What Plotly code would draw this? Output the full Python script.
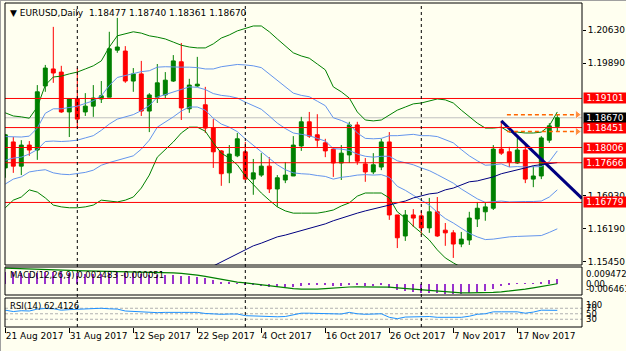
import plotly.graph_objects as go
import pandas as pd

# ---------------- data ----------------
title_text = "EURUSD,Daily"
dates = pd.bdate_range("2017-08-21", "2017-11-24")

opens = [1.1755, 1.1813, 1.1759, 1.1806, 1.1795, 1.1938, 1.1976, 1.1969, 1.1880, 1.1909,
         1.1880, 1.1893, 1.1909, 1.1913, 1.2018, 1.2016, 1.1949, 1.1965, 1.1882, 1.1913,
         1.1918, 1.1949, 1.1992, 1.1887, 1.1938, 1.1896, 1.1844, 1.1793, 1.1744, 1.1782,
         1.1791, 1.1730, 1.1739, 1.1759, 1.1708, 1.1728, 1.1737, 1.1804, 1.1858, 1.1829,
         1.1811, 1.1797, 1.1766, 1.1784, 1.1851, 1.1764, 1.1746, 1.1757, 1.1813, 1.1650,
         1.1603, 1.1650, 1.1648, 1.1621, 1.1657, 1.1616, 1.1610, 1.1585, 1.1594, 1.1641,
         1.1657, 1.1665, 1.1797, 1.1791, 1.1766, 1.1795, 1.1730, 1.1737, 1.1817, 1.18477]
highs = [1.1831, 1.1824, 1.1817, 1.1815, 1.1940, 1.1985, 1.2070, 1.1983, 1.1911, 1.1978,
         1.1922, 1.1940, 1.1949, 1.2059, 1.2090, 1.2027, 1.1978, 1.1994, 1.1922, 1.1987,
         1.1969, 1.2007, 1.2034, 1.1954, 1.2003, 1.1936, 1.1864, 1.1795, 1.1806, 1.1833,
         1.1813, 1.1775, 1.1788, 1.1779, 1.1739, 1.1768, 1.1826, 1.1869, 1.1880, 1.1875,
         1.1820, 1.1800, 1.1806, 1.1858, 1.1858, 1.1777, 1.1788, 1.1820, 1.1835, 1.1650,
         1.1661, 1.1663, 1.1659, 1.1688, 1.1690, 1.1632, 1.1616, 1.1612, 1.1657, 1.1679,
         1.1679, 1.1806, 1.1860, 1.1802, 1.1824, 1.1811, 1.1759, 1.1826, 1.1855, 1.18740]
lows = [1.1733, 1.1744, 1.1739, 1.1782, 1.1773, 1.1925, 1.1945, 1.1878, 1.1824, 1.1846,
        1.1871, 1.1869, 1.1900, 1.1913, 1.2012, 1.1945, 1.1925, 1.1871, 1.1835, 1.1900,
        1.1911, 1.1947, 1.1862, 1.1878, 1.1936, 1.1833, 1.1755, 1.1715, 1.1721, 1.1779,
        1.1728, 1.1695, 1.1735, 1.1699, 1.1668, 1.1721, 1.1737, 1.1793, 1.1822, 1.1802,
        1.1779, 1.1735, 1.1728, 1.1766, 1.1762, 1.1724, 1.1741, 1.1750, 1.1639, 1.1576,
        1.1592, 1.1623, 1.1605, 1.1610, 1.1601, 1.1581, 1.1554, 1.1578, 1.1583, 1.1623,
        1.1637, 1.1661, 1.1784, 1.1757, 1.1764, 1.1721, 1.1712, 1.1730, 1.1811, 1.18361]
closes = [1.1829, 1.1759, 1.1806, 1.1795, 1.1925, 1.1978, 1.1967, 1.1880, 1.1909, 1.1864,
          1.1893, 1.1911, 1.1916, 1.2021, 1.2025, 1.1949, 1.1965, 1.1882, 1.1918, 1.1945,
          1.1951, 1.1994, 1.1889, 1.1940, 1.1942, 1.1844, 1.1791, 1.1742, 1.1786, 1.1820,
          1.1730, 1.1744, 1.1759, 1.1708, 1.1733, 1.1739, 1.1806, 1.1858, 1.1826, 1.1817,
          1.1793, 1.1766, 1.1788, 1.1851, 1.1770, 1.1746, 1.1762, 1.1813, 1.1650, 1.1599,
          1.1650, 1.1643, 1.1621, 1.1657, 1.1603, 1.1610, 1.1585, 1.1596, 1.1643, 1.1665,
          1.1668, 1.1797, 1.1788, 1.1768, 1.1795, 1.1730, 1.1737, 1.1822, 1.1849, 1.18670]

# Bollinger bands (20,2) green, (20,1) blue
bb2_upper = [1.1878, 1.1871, 1.1869, 1.1866, 1.1891, 1.1940, 1.1958, 1.1960, 1.1965, 1.1969,
             1.1976, 1.1983, 1.1994, 1.2025, 1.2050, 1.2054, 1.2059, 1.2056, 1.2050, 1.2047,
             1.2043, 1.2036, 1.2029, 1.2025, 1.2023, 1.2023, 1.2032, 1.2045, 1.2052, 1.2061,
             1.2067, 1.2072, 1.2072, 1.2059, 1.2043, 1.2027, 1.2012, 1.2005, 1.2000, 1.1987,
             1.1974, 1.1936, 1.1925, 1.1911, 1.1880, 1.1862, 1.1860, 1.1862, 1.1873, 1.1884,
             1.1891, 1.1898, 1.1900, 1.1904, 1.1909, 1.1907, 1.1900, 1.1884, 1.1869, 1.1855,
             1.1844, 1.1844, 1.1846, 1.1835, 1.1835, 1.1833, 1.1833, 1.1835, 1.1849, 1.1880]
bb2_lower = [1.1666, 1.1683, 1.1690, 1.1706, 1.1701, 1.1688, 1.1672, 1.1668, 1.1666, 1.1666,
             1.1668, 1.1672, 1.1683, 1.1681, 1.1679, 1.1683, 1.1690, 1.1710, 1.1739, 1.1779,
             1.1795, 1.1813, 1.1833, 1.1846, 1.1846, 1.1837, 1.1811, 1.1788, 1.1777, 1.1762,
             1.1737, 1.1717, 1.1699, 1.1683, 1.1668, 1.1659, 1.1654, 1.1654, 1.1654, 1.1654,
             1.1657, 1.1661, 1.1670, 1.1677, 1.1692, 1.1699, 1.1699, 1.1699, 1.1688, 1.1657,
             1.1643, 1.1625, 1.1610, 1.1594, 1.1572, 1.1554, 1.1543, 1.1532, 1.1523, 1.1516,
             1.1512, 1.1514, 1.1516, 1.1523, 1.1525, 1.1527, 1.1527, 1.1527, 1.1532, 1.1532]
bb1_upper = [1.1825, 1.1824, 1.1824, 1.1826, 1.1844, 1.1877, 1.1887, 1.1887, 1.1890, 1.1893,
             1.1899, 1.1905, 1.1916, 1.1939, 1.1957, 1.1961, 1.1966, 1.1970, 1.1972, 1.1980,
             1.1981, 1.1980, 1.1980, 1.1980, 1.1979, 1.1976, 1.1976, 1.1981, 1.1983, 1.1986,
             1.1985, 1.1983, 1.1979, 1.1965, 1.1949, 1.1935, 1.1922, 1.1917, 1.1914, 1.1904,
             1.1894, 1.1867, 1.1861, 1.1853, 1.1833, 1.1821, 1.1820, 1.1821, 1.1827, 1.1827,
             1.1829, 1.1830, 1.1827, 1.1827, 1.1825, 1.1818, 1.1811, 1.1796, 1.1782, 1.1771,
             1.1761, 1.1762, 1.1764, 1.1757, 1.1758, 1.1757, 1.1757, 1.1758, 1.1769, 1.1793]
bb_middle = [1.1772, 1.1777, 1.1779, 1.1786, 1.1796, 1.1814, 1.1815, 1.1814, 1.1815, 1.1817,
             1.1822, 1.1827, 1.1839, 1.1853, 1.1864, 1.1869, 1.1874, 1.1883, 1.1894, 1.1913,
             1.1919, 1.1925, 1.1931, 1.1936, 1.1935, 1.1930, 1.1921, 1.1917, 1.1915, 1.1911,
             1.1902, 1.1894, 1.1886, 1.1871, 1.1855, 1.1843, 1.1833, 1.1830, 1.1827, 1.1821,
             1.1815, 1.1798, 1.1797, 1.1794, 1.1786, 1.1781, 1.1779, 1.1781, 1.1781, 1.1771,
             1.1767, 1.1762, 1.1755, 1.1749, 1.1740, 1.1730, 1.1721, 1.1708, 1.1696, 1.1686,
             1.1678, 1.1679, 1.1681, 1.1679, 1.1680, 1.1680, 1.1680, 1.1681, 1.1690, 1.1706]
bb1_lower = [1.1719, 1.1730, 1.1735, 1.1746, 1.1749, 1.1751, 1.1744, 1.1741, 1.1740, 1.1742,
             1.1745, 1.1750, 1.1761, 1.1767, 1.1772, 1.1776, 1.1782, 1.1797, 1.1817, 1.1846,
             1.1857, 1.1869, 1.1882, 1.1891, 1.1891, 1.1884, 1.1866, 1.1853, 1.1846, 1.1836,
             1.1820, 1.1806, 1.1792, 1.1777, 1.1762, 1.1751, 1.1744, 1.1742, 1.1741, 1.1738,
             1.1736, 1.1730, 1.1734, 1.1736, 1.1739, 1.1740, 1.1739, 1.1740, 1.1734, 1.1714,
             1.1705, 1.1694, 1.1682, 1.1672, 1.1656, 1.1642, 1.1632, 1.1620, 1.1609, 1.1601,
             1.1595, 1.1596, 1.1599, 1.1601, 1.1602, 1.1603, 1.1603, 1.1604, 1.1611, 1.1619]
# slow moving average (navy), visible from bar 25 on
ma_start = 25
ma_slow = [1.1527, 1.1536, 1.1545, 1.1554, 1.1563, 1.1572, 1.1581, 1.1587, 1.1594, 1.1601,
           1.1605, 1.1610, 1.1614, 1.1619, 1.1625, 1.1630, 1.1637, 1.1643, 1.1648, 1.1654,
           1.1659, 1.1663, 1.1668, 1.1672, 1.1677, 1.1681, 1.1688, 1.1692, 1.1697, 1.1699,
           1.1706, 1.1710, 1.1717, 1.1724, 1.1726, 1.1731, 1.1735, 1.1742, 1.1746, 1.1751,
           1.1755, 1.1760, 1.1762, 1.1764, 1.1767]

macd_main = [0.0068, 0.0064, 0.0061, 0.0058, 0.0062, 0.0066, 0.0068, 0.0064, 0.0062, 0.0058,
             0.0056, 0.0055, 0.0054, 0.0060, 0.0065, 0.0063, 0.0061, 0.0055, 0.0052, 0.0050,
             0.0048, 0.0049, 0.0043, 0.0041, 0.0039, 0.0032, 0.0022, 0.0011, 0.0005, 0.0003,
             -0.0004, -0.0009, -0.0012, -0.0018, -0.0020, -0.0021, -0.0017, -0.0011, -0.0009, -0.0008,
             -0.0009, -0.0011, -0.0011, -0.0006, -0.0008, -0.0011, -0.0012, -0.0008, -0.0022, -0.0036,
             -0.0043, -0.0048, -0.0052, -0.0052, -0.0056, -0.0058, -0.0061, -0.0060, -0.0055, -0.0049,
             -0.0044, -0.0028, -0.0016, -0.0009, -0.0002, -0.0002, 0.0001, 0.0012, 0.0020, 0.002483]
macd_signal = [0.0088, 0.0086, 0.0084, 0.0082, 0.0080, 0.0078, 0.0077, 0.0076, 0.0075, 0.0074,
               0.0073, 0.0072, 0.0071, 0.0070, 0.0070, 0.0069, 0.0069, 0.0068, 0.0067, 0.0065,
               0.0063, 0.0061, 0.0058, 0.0054, 0.0048, 0.0041, 0.0033, 0.0024, 0.0015, 0.0009,
               0.0004, -0.0002, -0.0007, -0.0012, -0.0018, -0.0024, -0.0028, -0.0031, -0.0032, -0.0031,
               -0.0028, -0.0024, -0.0020, -0.0019, -0.0018, -0.0018, -0.0018, -0.0019, -0.0020, -0.0024,
               -0.0028, -0.0032, -0.0036, -0.0040, -0.0045, -0.0049, -0.0052, -0.0053, -0.0053, -0.0053,
               -0.0052, -0.0050, -0.0047, -0.0043, -0.0038, -0.0031, -0.0024, -0.0016, -0.0009, -0.000051]
rsi = [63, 58, 61, 60, 67, 69, 68, 63, 65, 66, 68, 70, 70, 68, 67, 60, 58, 56, 54, 54,
       55, 56, 55, 55, 55, 51, 49, 48, 49, 49, 43, 42, 42, 39, 39, 40, 45, 52, 52, 51,
       49, 48, 49, 55, 50, 48, 49, 50, 37, 32, 38, 39, 38, 40, 37, 37, 36, 37, 41, 48,
       50, 57, 57, 56, 57, 52, 56, 63, 64, 62.4126]

levels = [1.19101, 1.18451, 1.18006, 1.17666, 1.16779]
# scale labels not hidden behind the level boxes
price_ticks = [1.20630, 1.19890, 1.16930, 1.16190, 1.15450]
date_tick_labels = ["21 Aug 2017", "31 Aug 2017", "12 Sep 2017", "22 Sep 2017", "4 Oct 2017",
                    "16 Oct 2017", "26 Oct 2017", "7 Nov 2017", "17 Nov 2017"]
trend_x = [62, 72.09]
trend_y = [1.1860, 1.1687]
hl_arrow_x = [62.7, 71.5]
macd_scale = [-0.006461, 0.009472]
rsi_levels = [70, 50, 30]
rsi_labels = [100, 70, 50, 30, 0]

# ---------------- styling ----------------
BG = "#FFFFF0"
GREEN = "#008000"
RED = "#FF0000"
BLUE = "#6495ED"
NAVY = "#000080"
ORANGE = "#FF6600"
PURPLE = "#9933CC"
FONT = "DejaVu Sans"

W, H = 626, 351
ML, MR, MT, MB = 5, 44, 3, 24
PW, PH = W - ML - MR, H - MT - MB


def fx(px):
    return (px - ML) / PW


def fy(py):
    return (H - MB - py) / PH


x = list(range(len(dates)))
labels_all = [f"{d.day} {d.strftime('%b %Y')}" for d in dates]
tick_pos = [labels_all.index(t) for t in date_tick_labels]
month_starts = [i for i in range(1, len(dates)) if dates[i].month != dates[i - 1].month]

dom_main = [fy(265), fy(3)]
dom_macd = [fy(295), fy(267)]
dom_rsi = [fy(327), fy(298)]

fig = go.Figure()

fig.add_trace(go.Candlestick(
    x=x, open=opens, high=highs, low=lows, close=closes,
    increasing=dict(line=dict(color=GREEN, width=1), fillcolor=GREEN),
    decreasing=dict(line=dict(color=RED, width=1), fillcolor=RED),
    whiskerwidth=0, xaxis="x", yaxis="y", hoverinfo="skip"))

for ys, col in [(bb2_upper, GREEN), (bb2_lower, GREEN), (bb1_upper, BLUE),
                (bb_middle, BLUE), (bb1_lower, BLUE)]:
    fig.add_trace(go.Scatter(x=x, y=ys, mode="lines", line=dict(color=col, width=1),
                             xaxis="x", yaxis="y", hoverinfo="skip"))

fig.add_trace(go.Scatter(x=x[ma_start:], y=ma_slow, mode="lines",
                         line=dict(color=NAVY, width=1), xaxis="x", yaxis="y"))

fig.add_trace(go.Scatter(x=trend_x, y=trend_y, mode="lines",
                         line=dict(color=NAVY, width=3), xaxis="x", yaxis="y"))

for val in [highs[-1], lows[-1]]:
    fig.add_trace(go.Scatter(x=hl_arrow_x, y=[val, val], mode="lines+markers",
                             line=dict(color=ORANGE, width=1.5, dash="4px,3px"),
                             marker=dict(symbol="triangle-right", size=[0, 8], color=ORANGE),
                             xaxis="x", yaxis="y"))

# MACD
fig.add_trace(go.Bar(x=x, y=macd_main, width=0.17, marker=dict(color=PURPLE, line=dict(width=0)),
                     xaxis="x", yaxis="y2"))
fig.add_trace(go.Scatter(x=x, y=macd_signal, mode="lines", line=dict(color=GREEN, width=1.2),
                         xaxis="x", yaxis="y2"))
# RSI
fig.add_trace(go.Scatter(x=x, y=rsi, mode="lines", line=dict(color="#1E90FF", width=1),
                         xaxis="x", yaxis="y3"))

shapes = []
for lv in levels:
    shapes.append(dict(type="line", xref="paper", x0=0, x1=1, yref="y", y0=lv, y1=lv,
                       line=dict(color=RED, width=1), layer="above"))
shapes.append(dict(type="line", xref="paper", x0=0, x1=1, yref="y", y0=closes[-1], y1=closes[-1],
                   line=dict(color="#C0C0C0", width=1), layer="below"))
for lv in rsi_levels:
    shapes.append(dict(type="line", xref="paper", x0=0, x1=1, yref="y3", y0=lv, y1=lv,
                       line=dict(color="#B0B0B0", width=1, dash="3px,2px"), layer="below"))
for m in month_starts:
    shapes.append(dict(type="line", xref="x", x0=m, x1=m, yref="paper", y0=0, y1=1,
                       line=dict(color="black", width=1, dash="3px,3px"), layer="above"))
for d in (dom_main, dom_macd, dom_rsi):
    shapes.append(dict(type="rect", xref="paper", x0=0, x1=1, yref="paper", y0=d[0], y1=d[1],
                       line=dict(color="black", width=1), fillcolor="rgba(0,0,0,0)", layer="above"))
# window frame
shapes.append(dict(type="line", xref="paper", yref="paper", x0=fx(0), x1=fx(W), y0=fy(0.5), y1=fy(0.5),
                   line=dict(color="#A0A0A0", width=1)))
shapes.append(dict(type="line", xref="paper", yref="paper", x0=fx(0.5), x1=fx(0.5), y0=fy(0), y1=fy(H),
                   line=dict(color="#A0A0A0", width=1)))

annotations = []
annotations.append(dict(xref="paper", yref="paper", x=fx(8), y=fy(13), xanchor="left", yanchor="middle",
                        text="\u25BC " + title_text + "  " + " ".join(
                            f"{v:.5f}" for v in (opens[-1], highs[-1], lows[-1], closes[-1])),
                        showarrow=False, font=dict(family=FONT, size=9, color="black")))
annotations.append(dict(xref="paper", yref="paper", x=fx(8), y=fy(275), xanchor="left", yanchor="middle",
                        text=f"MACD(12,26,9) {macd_main[-1]:.6f} {macd_signal[-1]:.6f}",
                        showarrow=False, font=dict(family=FONT, size=8.5, color="black")))
annotations.append(dict(xref="paper", yref="paper", x=fx(8), y=fy(306), xanchor="left", yanchor="middle",
                        text=f"RSI(14) {rsi[-1]:.4f}",
                        showarrow=False, font=dict(family=FONT, size=8.5, color="black")))

annotations.append(dict(xref="paper", yref="y", x=1, y=closes[-1], xanchor="left", yanchor="middle",
                        xshift=1, text=f"{closes[-1]:.5f}", showarrow=False, bgcolor="black",
                        width=42, height=10, borderpad=0,
                        font=dict(family=FONT, size=9, color="white")))
for lv in levels:
    annotations.append(dict(xref="paper", yref="y", x=1, y=lv, xanchor="left", yanchor="middle",
                            xshift=1, text=f"{lv:.5f}", showarrow=False, bgcolor=RED,
                            width=42, height=10, borderpad=0,
                            font=dict(family=FONT, size=9, color="white")))
# MACD scale labels
for val, shift in [(macd_scale[1], -7), (0.0, 0), (macd_scale[0], 6)]:
    annotations.append(dict(xref="paper", yref="y2", x=1, y=val, xanchor="left", yanchor="middle",
                            xshift=2, yshift=shift,
                            text=("0.00" if val == 0 else f"{val:.6f}"), showarrow=False,
                            font=dict(family=FONT, size=8.5, color="black")))
for val, shift in zip(rsi_labels, [-5, 0, 0, 0, 5]):
    annotations.append(dict(xref="paper", yref="y3", x=1, y=val, xanchor="left", yanchor="middle",
                            xshift=2, yshift=shift, text=str(val), showarrow=False,
                            font=dict(family=FONT, size=8.5, color="black")))

fig.update_layout(
    width=W, height=H, margin=dict(l=ML, r=MR, t=MT, b=MB, autoexpand=False),
    paper_bgcolor=BG, plot_bgcolor=BG, showlegend=False, boxgap=0.3,
    bargap=0, hovermode=False,
    xaxis=dict(range=[-0.0375, 72.0875], anchor="y3", tickvals=tick_pos, ticktext=date_tick_labels,
               ticks="outside", ticklen=5, tickcolor="black", showgrid=False, zeroline=False,
               showline=False, ticklabelposition="outside right", tickangle=0, automargin=False,
               tickfont=dict(family=FONT, size=9, color="black"),
               rangeslider=dict(visible=False)),
    yaxis=dict(domain=dom_main, range=[1.15382, 1.21233], side="right", anchor="x",
               tickvals=price_ticks, ticktext=[f"{t:.5f}" for t in price_ticks], automargin=False,
               ticks="outside", ticklen=3, tickcolor="black", showgrid=False, zeroline=False,
               showline=False, tickfont=dict(family=FONT, size=9, color="black")),
    yaxis2=dict(domain=dom_macd, range=macd_scale, anchor="x", side="right", showticklabels=False,
                showgrid=False, zeroline=False, ticks="", automargin=False),
    yaxis3=dict(domain=dom_rsi, range=[1.8, 107.3], anchor="x", side="right", showticklabels=False,
                showgrid=False, zeroline=False, ticks="", automargin=False),
    shapes=shapes, annotations=annotations,
)

fig.write_html("out.html")
